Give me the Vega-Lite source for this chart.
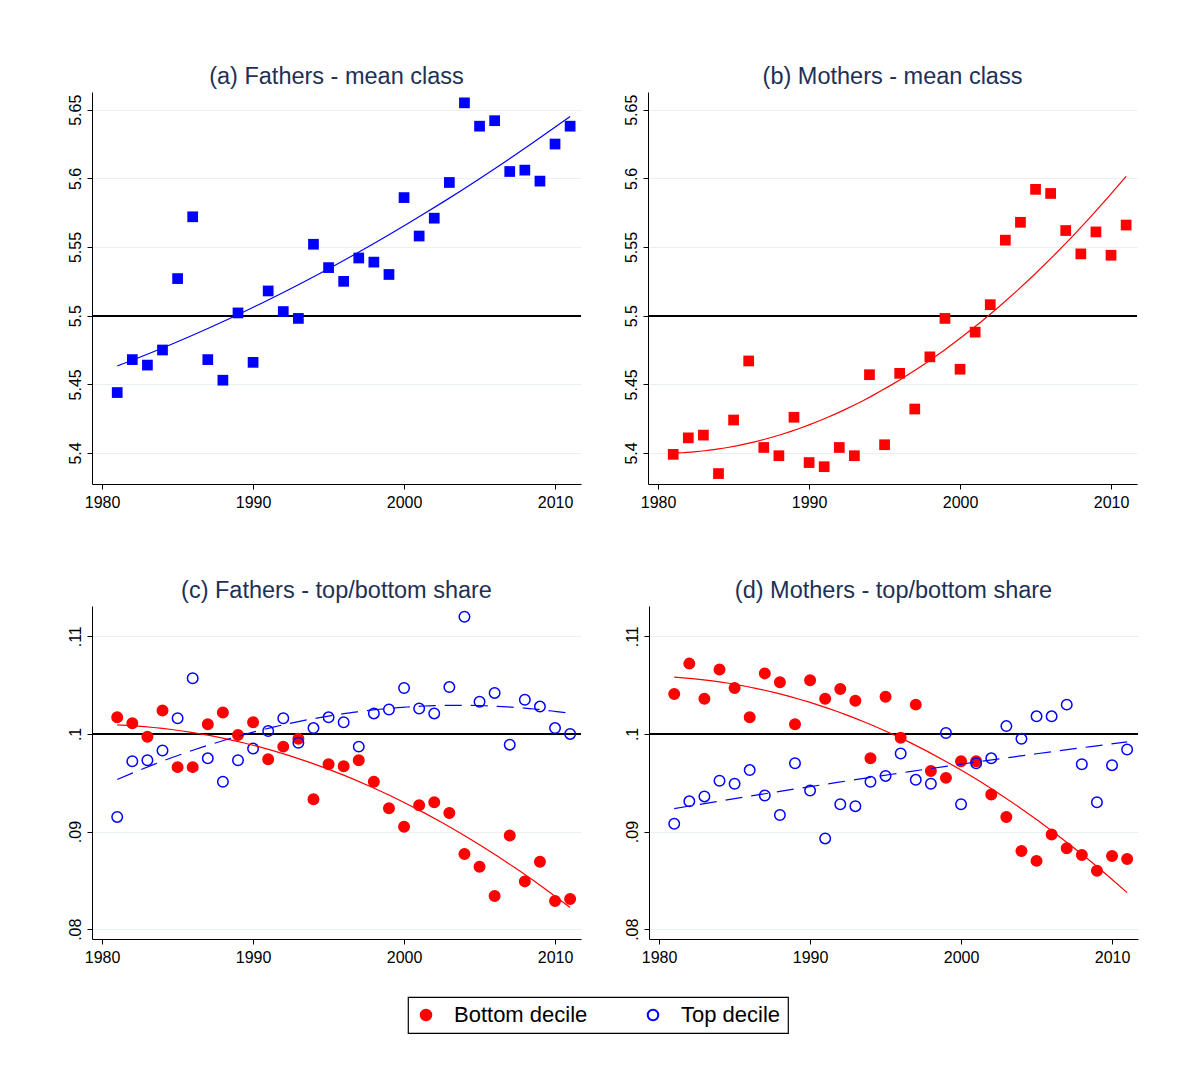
{
  "$schema": "https://vega.github.io/schema/vega-lite/v6.json",
  "background": "white",
  "padding": {"left": 66, "top": 64, "right": 10, "bottom": 10},
  "datasets": {
    "mean": [
      {"year": 1981, "fathers": 5.444, "mothers": 5.399},
      {"year": 1982, "fathers": 5.468, "mothers": 5.411},
      {"year": 1983, "fathers": 5.464, "mothers": 5.413},
      {"year": 1984, "fathers": 5.475, "mothers": 5.385},
      {"year": 1985, "fathers": 5.527, "mothers": 5.424},
      {"year": 1986, "fathers": 5.572, "mothers": 5.467},
      {"year": 1987, "fathers": 5.468, "mothers": 5.404},
      {"year": 1988, "fathers": 5.453, "mothers": 5.398},
      {"year": 1989, "fathers": 5.502, "mothers": 5.426},
      {"year": 1990, "fathers": 5.466, "mothers": 5.393},
      {"year": 1991, "fathers": 5.518, "mothers": 5.390},
      {"year": 1992, "fathers": 5.503, "mothers": 5.404},
      {"year": 1993, "fathers": 5.498, "mothers": 5.398},
      {"year": 1994, "fathers": 5.552, "mothers": 5.457},
      {"year": 1995, "fathers": 5.535, "mothers": 5.406},
      {"year": 1996, "fathers": 5.525, "mothers": 5.458},
      {"year": 1997, "fathers": 5.542, "mothers": 5.432},
      {"year": 1998, "fathers": 5.539, "mothers": 5.470},
      {"year": 1999, "fathers": 5.530, "mothers": 5.498},
      {"year": 2000, "fathers": 5.586, "mothers": 5.461},
      {"year": 2001, "fathers": 5.558, "mothers": 5.488},
      {"year": 2002, "fathers": 5.571, "mothers": 5.508},
      {"year": 2003, "fathers": 5.597, "mothers": 5.555},
      {"year": 2004, "fathers": 5.655, "mothers": 5.568},
      {"year": 2005, "fathers": 5.638, "mothers": 5.592},
      {"year": 2006, "fathers": 5.642, "mothers": 5.589},
      {"year": 2007, "fathers": 5.605, "mothers": 5.562},
      {"year": 2008, "fathers": 5.606, "mothers": 5.545},
      {"year": 2009, "fathers": 5.598, "mothers": 5.561},
      {"year": 2010, "fathers": 5.625, "mothers": 5.544},
      {"year": 2011, "fathers": 5.638, "mothers": 5.566}
    ],
    "share": [
      {"p": "F", "s": "Bottom decile", "year": 1981, "v": 0.1017},
      {"p": "F", "s": "Bottom decile", "year": 1982, "v": 0.1011},
      {"p": "F", "s": "Bottom decile", "year": 1983, "v": 0.0997},
      {"p": "F", "s": "Bottom decile", "year": 1984, "v": 0.1024},
      {"p": "F", "s": "Bottom decile", "year": 1985, "v": 0.0966},
      {"p": "F", "s": "Bottom decile", "year": 1986, "v": 0.0966},
      {"p": "F", "s": "Bottom decile", "year": 1987, "v": 0.1010},
      {"p": "F", "s": "Bottom decile", "year": 1988, "v": 0.1022},
      {"p": "F", "s": "Bottom decile", "year": 1989, "v": 0.0999},
      {"p": "F", "s": "Bottom decile", "year": 1990, "v": 0.1012},
      {"p": "F", "s": "Bottom decile", "year": 1991, "v": 0.0974},
      {"p": "F", "s": "Bottom decile", "year": 1992, "v": 0.0987},
      {"p": "F", "s": "Bottom decile", "year": 1993, "v": 0.0995},
      {"p": "F", "s": "Bottom decile", "year": 1994, "v": 0.0933},
      {"p": "F", "s": "Bottom decile", "year": 1995, "v": 0.0969},
      {"p": "F", "s": "Bottom decile", "year": 1996, "v": 0.0967},
      {"p": "F", "s": "Bottom decile", "year": 1997, "v": 0.0973},
      {"p": "F", "s": "Bottom decile", "year": 1998, "v": 0.0951},
      {"p": "F", "s": "Bottom decile", "year": 1999, "v": 0.0924},
      {"p": "F", "s": "Bottom decile", "year": 2000, "v": 0.0905},
      {"p": "F", "s": "Bottom decile", "year": 2001, "v": 0.0927},
      {"p": "F", "s": "Bottom decile", "year": 2002, "v": 0.0930},
      {"p": "F", "s": "Bottom decile", "year": 2003, "v": 0.0919},
      {"p": "F", "s": "Bottom decile", "year": 2004, "v": 0.0877},
      {"p": "F", "s": "Bottom decile", "year": 2005, "v": 0.0864},
      {"p": "F", "s": "Bottom decile", "year": 2006, "v": 0.0834},
      {"p": "F", "s": "Bottom decile", "year": 2007, "v": 0.0896},
      {"p": "F", "s": "Bottom decile", "year": 2008, "v": 0.0849},
      {"p": "F", "s": "Bottom decile", "year": 2009, "v": 0.0869},
      {"p": "F", "s": "Bottom decile", "year": 2010, "v": 0.0829},
      {"p": "F", "s": "Bottom decile", "year": 2011, "v": 0.0831},
      {"p": "F", "s": "Top decile", "year": 1981, "v": 0.0915},
      {"p": "F", "s": "Top decile", "year": 1982, "v": 0.0972},
      {"p": "F", "s": "Top decile", "year": 1983, "v": 0.0973},
      {"p": "F", "s": "Top decile", "year": 1984, "v": 0.0983},
      {"p": "F", "s": "Top decile", "year": 1985, "v": 0.1016},
      {"p": "F", "s": "Top decile", "year": 1986, "v": 0.1057},
      {"p": "F", "s": "Top decile", "year": 1987, "v": 0.0975},
      {"p": "F", "s": "Top decile", "year": 1988, "v": 0.0951},
      {"p": "F", "s": "Top decile", "year": 1989, "v": 0.0973},
      {"p": "F", "s": "Top decile", "year": 1990, "v": 0.0985},
      {"p": "F", "s": "Top decile", "year": 1991, "v": 0.1003},
      {"p": "F", "s": "Top decile", "year": 1992, "v": 0.1016},
      {"p": "F", "s": "Top decile", "year": 1993, "v": 0.0991},
      {"p": "F", "s": "Top decile", "year": 1994, "v": 0.1006},
      {"p": "F", "s": "Top decile", "year": 1995, "v": 0.1017},
      {"p": "F", "s": "Top decile", "year": 1996, "v": 0.1012},
      {"p": "F", "s": "Top decile", "year": 1997, "v": 0.0987},
      {"p": "F", "s": "Top decile", "year": 1998, "v": 0.1021},
      {"p": "F", "s": "Top decile", "year": 1999, "v": 0.1025},
      {"p": "F", "s": "Top decile", "year": 2000, "v": 0.1047},
      {"p": "F", "s": "Top decile", "year": 2001, "v": 0.1026},
      {"p": "F", "s": "Top decile", "year": 2002, "v": 0.1021},
      {"p": "F", "s": "Top decile", "year": 2003, "v": 0.1048},
      {"p": "F", "s": "Top decile", "year": 2004, "v": 0.1120},
      {"p": "F", "s": "Top decile", "year": 2005, "v": 0.1033},
      {"p": "F", "s": "Top decile", "year": 2006, "v": 0.1042},
      {"p": "F", "s": "Top decile", "year": 2007, "v": 0.0989},
      {"p": "F", "s": "Top decile", "year": 2008, "v": 0.1035},
      {"p": "F", "s": "Top decile", "year": 2009, "v": 0.1028},
      {"p": "F", "s": "Top decile", "year": 2010, "v": 0.1006},
      {"p": "F", "s": "Top decile", "year": 2011, "v": 0.1000},
      {"p": "M", "s": "Bottom decile", "year": 1981, "v": 0.1041},
      {"p": "M", "s": "Bottom decile", "year": 1982, "v": 0.1072},
      {"p": "M", "s": "Bottom decile", "year": 1983, "v": 0.1036},
      {"p": "M", "s": "Bottom decile", "year": 1984, "v": 0.1066},
      {"p": "M", "s": "Bottom decile", "year": 1985, "v": 0.1047},
      {"p": "M", "s": "Bottom decile", "year": 1986, "v": 0.1017},
      {"p": "M", "s": "Bottom decile", "year": 1987, "v": 0.1062},
      {"p": "M", "s": "Bottom decile", "year": 1988, "v": 0.1053},
      {"p": "M", "s": "Bottom decile", "year": 1989, "v": 0.1010},
      {"p": "M", "s": "Bottom decile", "year": 1990, "v": 0.1055},
      {"p": "M", "s": "Bottom decile", "year": 1991, "v": 0.1036},
      {"p": "M", "s": "Bottom decile", "year": 1992, "v": 0.1046},
      {"p": "M", "s": "Bottom decile", "year": 1993, "v": 0.1034},
      {"p": "M", "s": "Bottom decile", "year": 1994, "v": 0.0975},
      {"p": "M", "s": "Bottom decile", "year": 1995, "v": 0.1038},
      {"p": "M", "s": "Bottom decile", "year": 1996, "v": 0.0996},
      {"p": "M", "s": "Bottom decile", "year": 1997, "v": 0.1030},
      {"p": "M", "s": "Bottom decile", "year": 1998, "v": 0.0962},
      {"p": "M", "s": "Bottom decile", "year": 1999, "v": 0.0955},
      {"p": "M", "s": "Bottom decile", "year": 2000, "v": 0.0972},
      {"p": "M", "s": "Bottom decile", "year": 2001, "v": 0.0972},
      {"p": "M", "s": "Bottom decile", "year": 2002, "v": 0.0938},
      {"p": "M", "s": "Bottom decile", "year": 2003, "v": 0.0915},
      {"p": "M", "s": "Bottom decile", "year": 2004, "v": 0.0880},
      {"p": "M", "s": "Bottom decile", "year": 2005, "v": 0.0870},
      {"p": "M", "s": "Bottom decile", "year": 2006, "v": 0.0897},
      {"p": "M", "s": "Bottom decile", "year": 2007, "v": 0.0883},
      {"p": "M", "s": "Bottom decile", "year": 2008, "v": 0.0876},
      {"p": "M", "s": "Bottom decile", "year": 2009, "v": 0.0860},
      {"p": "M", "s": "Bottom decile", "year": 2010, "v": 0.0875},
      {"p": "M", "s": "Bottom decile", "year": 2011, "v": 0.0872},
      {"p": "M", "s": "Top decile", "year": 1981, "v": 0.0908},
      {"p": "M", "s": "Top decile", "year": 1982, "v": 0.0931},
      {"p": "M", "s": "Top decile", "year": 1983, "v": 0.0936},
      {"p": "M", "s": "Top decile", "year": 1984, "v": 0.0952},
      {"p": "M", "s": "Top decile", "year": 1985, "v": 0.0949},
      {"p": "M", "s": "Top decile", "year": 1986, "v": 0.0963},
      {"p": "M", "s": "Top decile", "year": 1987, "v": 0.0937},
      {"p": "M", "s": "Top decile", "year": 1988, "v": 0.0917},
      {"p": "M", "s": "Top decile", "year": 1989, "v": 0.0970},
      {"p": "M", "s": "Top decile", "year": 1990, "v": 0.0942},
      {"p": "M", "s": "Top decile", "year": 1991, "v": 0.0893},
      {"p": "M", "s": "Top decile", "year": 1992, "v": 0.0928},
      {"p": "M", "s": "Top decile", "year": 1993, "v": 0.0926},
      {"p": "M", "s": "Top decile", "year": 1994, "v": 0.0951},
      {"p": "M", "s": "Top decile", "year": 1995, "v": 0.0957},
      {"p": "M", "s": "Top decile", "year": 1996, "v": 0.0980},
      {"p": "M", "s": "Top decile", "year": 1997, "v": 0.0953},
      {"p": "M", "s": "Top decile", "year": 1998, "v": 0.0949},
      {"p": "M", "s": "Top decile", "year": 1999, "v": 0.1001},
      {"p": "M", "s": "Top decile", "year": 2000, "v": 0.0928},
      {"p": "M", "s": "Top decile", "year": 2001, "v": 0.0970},
      {"p": "M", "s": "Top decile", "year": 2002, "v": 0.0975},
      {"p": "M", "s": "Top decile", "year": 2003, "v": 0.1008},
      {"p": "M", "s": "Top decile", "year": 2004, "v": 0.0995},
      {"p": "M", "s": "Top decile", "year": 2005, "v": 0.1018},
      {"p": "M", "s": "Top decile", "year": 2006, "v": 0.1018},
      {"p": "M", "s": "Top decile", "year": 2007, "v": 0.1030},
      {"p": "M", "s": "Top decile", "year": 2008, "v": 0.0969},
      {"p": "M", "s": "Top decile", "year": 2009, "v": 0.0930},
      {"p": "M", "s": "Top decile", "year": 2010, "v": 0.0968},
      {"p": "M", "s": "Top decile", "year": 2011, "v": 0.0984}
    ]
  },
  "spacing": 68,
  "resolve": {"scale": {"y": "independent"}},
  "vconcat": [
    {
      "spacing": 41,
      "hconcat": [
        {
          "width": 489, "height": 392,
          "title": "(a) Fathers - mean class",
          "data": {"name": "mean"},
          "encoding": {
            "x": {"field": "year", "type": "quantitative", "title": null, "scale": {"domain": [1979.33, 2011.72], "nice": false, "zero": false}, "axis": {"values": [1980, 1990, 2000, 2010], "format": "d", "grid": false}}
          },
          "layer": [
            {"mark": {"type": "rule", "color": "black", "strokeWidth": 1.3}, "encoding": {"y": {"datum": 5.5, "type": "quantitative"}, "x": null}},
            {"mark": {"type": "point", "shape": "square", "filled": true, "color": "#0000ff", "size": 115, "opacity": 1},
             "encoding": {"y": {"field": "fathers", "type": "quantitative", "title": null, "scale": {"domain": [5.3774, 5.6629], "nice": false, "zero": false}, "axis": {"values": [5.4, 5.45, 5.5, 5.55, 5.6, 5.65], "format": "~g"}}}},
            {"transform": [{"regression": "fathers", "on": "year", "method": "quad"}],
             "mark": {"type": "line", "color": "#0000ff", "strokeWidth": 1.2},
             "encoding": {"y": {"field": "fathers", "type": "quantitative"}}}
          ]
        },
        {
          "width": 489, "height": 392,
          "title": "(b) Mothers - mean class",
          "data": {"name": "mean"},
          "encoding": {
            "x": {"field": "year", "type": "quantitative", "title": null, "scale": {"domain": [1979.33, 2011.72], "nice": false, "zero": false}, "axis": {"values": [1980, 1990, 2000, 2010], "format": "d", "grid": false}}
          },
          "layer": [
            {"mark": {"type": "rule", "color": "black", "strokeWidth": 1.3}, "encoding": {"y": {"datum": 5.5, "type": "quantitative"}, "x": null}},
            {"mark": {"type": "point", "shape": "square", "filled": true, "color": "#ff0000", "size": 115, "opacity": 1},
             "encoding": {"y": {"field": "mothers", "type": "quantitative", "title": null, "scale": {"domain": [5.3774, 5.6629], "nice": false, "zero": false}, "axis": {"values": [5.4, 5.45, 5.5, 5.55, 5.6, 5.65], "format": "~g"}}}},
            {"transform": [{"regression": "mothers", "on": "year", "method": "quad"}],
             "mark": {"type": "line", "color": "#ff0000", "strokeWidth": 1.2},
             "encoding": {"y": {"field": "mothers", "type": "quantitative"}}}
          ]
        }
      ]
    },
    {
      "spacing": 41,
      "hconcat": [
        {
          "width": 489, "height": 333,
          "title": "(c) Fathers - top/bottom share",
          "data": {"name": "share"},
          "transform": [{"filter": "datum.p === 'F'"}],
          "encoding": {
            "x": {"field": "year", "type": "quantitative", "title": null, "scale": {"domain": [1979.33, 2011.72], "nice": false, "zero": false}, "axis": {"values": [1980, 1990, 2000, 2010], "format": "d", "grid": false}}
          },
          "layer": [
            {"mark": {"type": "rule", "color": "black", "strokeWidth": 1.3}, "encoding": {"y": {"datum": 0.1, "type": "quantitative"}, "x": null}},
            {"mark": {"type": "point", "shape": "circle", "size": 110, "opacity": 1, "strokeWidth": 1.5},
             "encoding": {
               "y": {"field": "v", "type": "quantitative", "title": null, "scale": {"domain": [0.079, 0.1131], "nice": false, "zero": false}, "axis": {"values": [0.08, 0.09, 0.1, 0.11], "labelExpr": "replace(format(datum.value, '~g'), '0.', '.')"}},
               "fill": {"field": "s", "type": "nominal", "scale": {"domain": ["Bottom decile", "Top decile"], "range": ["#ff0000", "transparent"]}, "legend": {"title": null, "orient": "none", "legendX": 316, "legendY": 905, "direction": "horizontal"}},
               "stroke": {"field": "s", "type": "nominal", "scale": {"domain": ["Bottom decile", "Top decile"], "range": ["#ff0000", "#0000ff"]}, "legend": {"title": null, "orient": "none", "legendX": 316, "legendY": 905, "direction": "horizontal"}}
             }},
            {"transform": [{"filter": "datum.s === 'Bottom decile'"}, {"regression": "v", "on": "year", "method": "quad"}],
             "mark": {"type": "line", "color": "#ff0000", "strokeWidth": 1.2},
             "encoding": {"y": {"field": "v", "type": "quantitative"}}},
            {"transform": [{"filter": "datum.s === 'Top decile'"}, {"regression": "v", "on": "year", "method": "quad"}],
             "mark": {"type": "line", "color": "#0000ff", "strokeWidth": 1.2, "strokeDash": [17, 9]},
             "encoding": {"y": {"field": "v", "type": "quantitative"}}}
          ]
        },
        {
          "width": 489, "height": 333,
          "title": "(d) Mothers - top/bottom share",
          "data": {"name": "share"},
          "transform": [{"filter": "datum.p === 'M'"}],
          "encoding": {
            "x": {"field": "year", "type": "quantitative", "title": null, "scale": {"domain": [1979.33, 2011.72], "nice": false, "zero": false}, "axis": {"values": [1980, 1990, 2000, 2010], "format": "d", "grid": false}}
          },
          "layer": [
            {"mark": {"type": "rule", "color": "black", "strokeWidth": 1.3}, "encoding": {"y": {"datum": 0.1, "type": "quantitative"}, "x": null}},
            {"mark": {"type": "point", "shape": "circle", "size": 110, "opacity": 1, "strokeWidth": 1.5},
             "encoding": {
               "y": {"field": "v", "type": "quantitative", "title": null, "scale": {"domain": [0.079, 0.1131], "nice": false, "zero": false}, "axis": {"values": [0.08, 0.09, 0.1, 0.11], "labelExpr": "replace(format(datum.value, '~g'), '0.', '.')"}},
               "fill": {"field": "s", "type": "nominal", "scale": {"domain": ["Bottom decile", "Top decile"], "range": ["#ff0000", "transparent"]}, "legend": {"title": null, "orient": "none", "legendX": 316, "legendY": 905, "direction": "horizontal"}},
               "stroke": {"field": "s", "type": "nominal", "scale": {"domain": ["Bottom decile", "Top decile"], "range": ["#ff0000", "#0000ff"]}, "legend": {"title": null, "orient": "none", "legendX": 316, "legendY": 905, "direction": "horizontal"}}
             }},
            {"transform": [{"filter": "datum.s === 'Bottom decile'"}, {"regression": "v", "on": "year", "method": "quad"}],
             "mark": {"type": "line", "color": "#ff0000", "strokeWidth": 1.2},
             "encoding": {"y": {"field": "v", "type": "quantitative"}}},
            {"transform": [{"filter": "datum.s === 'Top decile'"}, {"regression": "v", "on": "year", "method": "quad"}],
             "mark": {"type": "line", "color": "#0000ff", "strokeWidth": 1.2, "strokeDash": [17, 9]},
             "encoding": {"y": {"field": "v", "type": "quantitative"}}}
          ]
        }
      ]
    }
  ],
  "config": {
    "font": "Liberation Sans",
    "view": {"stroke": null},
    "title": {"fontSize": 23.5, "font": "Liberation Sans", "fontWeight": "normal", "color": "#1e3056", "anchor": "middle", "offset": 4},
    "axis": {
      "domainColor": "#000000", "domainWidth": 1, "tickColor": "#000000", "tickWidth": 1, "tickSize": 5,
      "labelColor": "#000000", "labelFont": "Liberation Sans", "labelFontSize": 16, "labelPadding": 4
    },
    "axisY": {"grid": true, "gridColor": "#e8f0f2", "gridWidth": 1.2, "labelAngle": -90, "labelAlign": "center", "labelBaseline": "bottom"},
    "axisX": {"grid": false, "labelPadding": 5},
    "legend": {
      "strokeColor": "#000000", "strokeWidth": 1.2, "padding": 7, "labelFontSize": 22, "labelFont": "Liberation Sans",
      "labelColor": "#000000", "symbolSize": 110, "symbolStrokeWidth": 2, "labelOffset": 17, "columnPadding": 54, "symbolType": "circle"
    }
  }
}
